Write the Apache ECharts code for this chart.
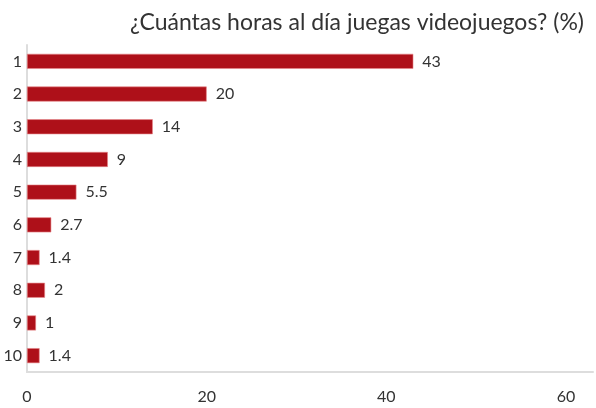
<!DOCTYPE html>
<html>
<head>
<meta charset="utf-8">
<script src="https://cdn.jsdelivr.net/npm/echarts@6/dist/echarts.min.js"></script>
<style>
  html, body { margin: 0; padding: 0; background: #fff; }
  #chart { width: 596px; height: 408px; }
</style>
</head>
<body>
<div id="chart"></div>
<script>
  const titleText = '¿Cuántas horas al día juegas videojuegos? (%)';
  const categories = ['1', '2', '3', '4', '5', '6', '7', '8', '9', '10'];
  const values = [43, 20, 14, 9, 5.5, 2.7, 1.4, 2, 1, 1.4];
  const xTicks = [0, 20, 40, 60];

  const chart = echarts.init(document.getElementById('chart'));

  chart.setOption({
    animation: false,
    textStyle: { fontFamily: 'Lato' },
    title: {
      text: titleText,
      right: 7,
      top: 6,
      textStyle: {
        fontFamily: 'Lato',
        fontSize: 23,
        fontWeight: 'normal',
        color: '#333'
      }
    },
    grid: { left: 27, right: 3, top: 45, bottom: 36 },
    xAxis: {
      type: 'value',
      min: 0,
      max: 63,
      interval: 20,
      splitLine: { show: false },
      axisTick: { show: false },
      axisLine: { show: true, lineStyle: { color: '#ddd', width: 2 } },
      axisLabel: {
        margin: 17,
        fontSize: 16,
        color: '#333',
        showMaxLabel: false,
        formatter: v => xTicks.includes(v) ? String(v) : ''
      }
    },
    yAxis: {
      type: 'category',
      data: categories,
      inverse: true,
      axisTick: { show: false },
      axisLine: { show: true, lineStyle: { color: '#ddd', width: 2 } },
      axisLabel: { margin: 5, fontSize: 16, color: '#333' }
    },
    series: [{
      type: 'bar',
      data: values,
      barWidth: 15,
      itemStyle: { color: '#ae1019', borderColor: '#e8868a', borderWidth: 0.6 },
      label: {
        show: true,
        position: 'right',
        distance: 9,
        fontSize: 16,
        color: '#333'
      }
    }]
  });
</script>
</body>
</html>
